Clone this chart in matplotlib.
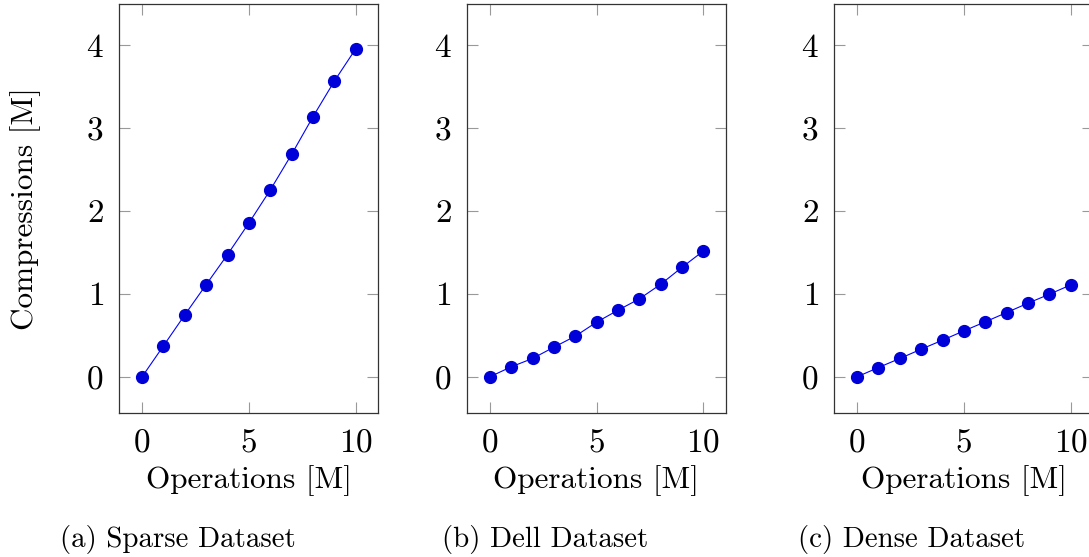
import matplotlib
matplotlib.use("Agg")
import matplotlib.pyplot as plt

plt.rcParams['font.family'] = ['cmr10', 'DejaVu Serif']
plt.rcParams['axes.formatter.use_mathtext'] = True
plt.rcParams['mathtext.fontset'] = 'cm'

operations = [0, 1, 2, 3, 4, 5, 6, 7, 8, 9, 10]
sparse = [0, 0.373, 0.747, 1.112, 1.474, 1.855, 2.253, 2.683, 3.137, 3.566, 3.956]
dell = [0, 0.12, 0.221, 0.357, 0.49, 0.659, 0.803, 0.94, 1.116, 1.321, 1.518]
dense = [0, 0.112, 0.221, 0.333, 0.442, 0.554, 0.663, 0.775, 0.888, 0.996, 1.108]
series = [sparse, dell, dense]
captions = ["(a) Sparse Dataset", "(b) Dell Dataset", "(c) Dense Dataset"]
x_ticks = [0, 5, 10]
y_ticks = [0, 1, 2, 3, 4]

W, H = 1089, 557
fig = plt.figure(figsize=(W / 100, H / 100), dpi=100)

lefts = [119, 466.7, 834]
ax_w = 259
top, bottom = 4, 413.3
cap_centers = [178, 545, 912]

for i, (vals, cap) in enumerate(zip(series, captions)):
    ax = fig.add_axes([lefts[i] / W, (H - bottom) / H, ax_w / W, (bottom - top) / H])
    ax.plot(operations, vals, color='#0000ff', lw=0.8, marker='o', ms=8.5,
            mfc='#0000d8', mec='#0000d8', zorder=3)
    ax.set_xlim(-1.08, 11.04)
    ax.set_ylim(-0.44, 4.495)
    ax.set_xticks(x_ticks)
    ax.set_yticks(y_ticks)
    ax.tick_params(direction='in', length=8, width=0.8, color='#999999',
                   top=True, right=True, labelsize=24, pad=11)
    for s in ax.spines.values():
        s.set_color('#333333')
        s.set_linewidth(0.9)
    ax.set_xlabel("Operations [M]", fontsize=22.5, va='center')
    ax.xaxis.set_label_coords(0.5, -(481 - bottom) / (bottom - top), transform=ax.transAxes)
    if i == 0:
        ax.set_ylabel("Compressions [M]", fontsize=22.5, va='center')
        ax.yaxis.set_label_coords(-(lefts[0] - 26) / ax_w, 0.5, transform=ax.transAxes)
    fig.text(cap_centers[i] / W, 1 - 540 / H, cap, fontsize=20.8,
             ha='center', va='center')

fig.savefig("out.png", dpi=100)
